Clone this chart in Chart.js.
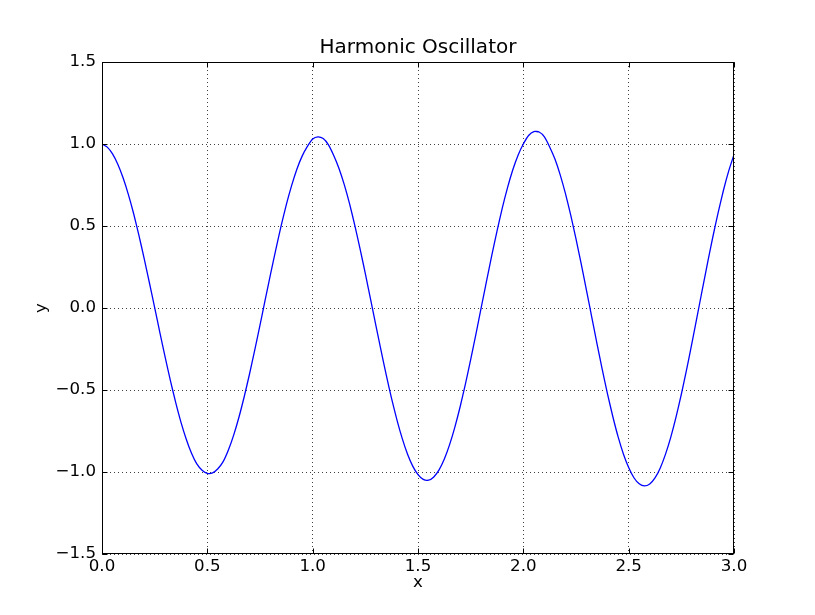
<!DOCTYPE html>
<html>
<head>
<meta charset="utf-8">
<script src="https://cdn.jsdelivr.net/npm/chart.js@4.4.1/dist/chart.umd.min.js"></script>
<style>
    html, body { margin: 0; padding: 0; background: #fff; }
    #wrap { width: 815px; height: 615px; }
</style>
</head>
<body>
<div id="wrap"><canvas id="oscChart"></canvas></div>
<script>
const title = "Harmonic Oscillator";
const xLabel = "x";
const yLabel = "y";

const xTicks = [0, 0.5, 1.0, 1.5, 2.0, 2.5, 3.0];
const yTicks = [-1.5, -1.0, -0.5, 0, 0.5, 1.0, 1.5];

// sample positions
const xValues = [
    0, 0.025, 0.05, 0.075, 0.1, 0.125, 0.15, 0.175, 0.2, 0.225,
    0.25, 0.275, 0.3, 0.325, 0.35, 0.375, 0.4, 0.425, 0.45, 0.475,
    0.5, 0.525, 0.55, 0.575, 0.6, 0.625, 0.65, 0.675, 0.7, 0.725,
    0.75, 0.775, 0.8, 0.825, 0.85, 0.875, 0.9, 0.925, 0.95, 0.975,
    1.0, 1.025, 1.05, 1.075, 1.1, 1.125, 1.15, 1.175, 1.2, 1.225,
    1.25, 1.275, 1.3, 1.325, 1.35, 1.375, 1.4, 1.425, 1.45, 1.475,
    1.5, 1.525, 1.55, 1.575, 1.6, 1.625, 1.65, 1.675, 1.7, 1.725,
    1.75, 1.775, 1.8, 1.825, 1.85, 1.875, 1.9, 1.925, 1.95, 1.975,
    2.0, 2.025, 2.05, 2.075, 2.1, 2.125, 2.15, 2.175, 2.2, 2.225,
    2.25, 2.275, 2.3, 2.325, 2.35, 2.375, 2.4, 2.425, 2.45, 2.475,
    2.5, 2.525, 2.55, 2.575, 2.6, 2.625, 2.65, 2.675, 2.7, 2.725,
    2.75, 2.775, 2.8, 2.825, 2.85, 2.875, 2.9, 2.925, 2.95, 2.975,
    3.0
];

const yValues = [
    1.000, 0.981, 0.940, 0.877, 0.794, 0.693, 0.576, 0.444, 0.303, 0.154,
    0.002, -0.151, -0.301, -0.444, -0.577, -0.697, -0.800, -0.886, -0.951, -0.989,
    -1.008, -1.005, -0.980, -0.937, -0.866, -0.775, -0.666, -0.541, -0.404, -0.257,
    -0.104, 0.052, 0.206, 0.356, 0.499, 0.630, 0.746, 0.846, 0.926, 0.985,
    1.030, 1.044, 1.033, 0.995, 0.930, 0.851, 0.752, 0.636, 0.504, 0.361,
    0.209, 0.052, -0.106, -0.262, -0.413, -0.554, -0.682, -0.795, -0.890, -0.964,
    -1.016, -1.045, -1.050, -1.030, -0.987, -0.921, -0.833, -0.726, -0.602, -0.464,
    -0.315, -0.159, 0.002, 0.162, 0.319, 0.469, 0.609, 0.734, 0.843, 0.932,
    1.000, 1.052, 1.076, 1.073, 1.043, 0.982, 0.908, 0.812, 0.697, 0.566,
    0.421, 0.267, 0.106, -0.057, -0.220, -0.377, -0.526, -0.663, -0.786, -0.890,
    -0.973, -1.035, -1.072, -1.085, -1.073, -1.036, -0.975, -0.891, -0.787, -0.664,
    -0.526, -0.376, -0.216, -0.051, 0.115, 0.278, 0.436, 0.583, 0.718, 0.836,
    0.935
];

function fmt(v) {
    return Number(v).toFixed(1).replace("-", "\u2212");
}

// box around the axes and inward tick marks on all four sides
const frameTicks = {
    id: "frameTicks",
    afterDatasetsDraw(chart) {
        const { ctx, chartArea: a, scales } = chart;
        const L = Math.round(a.left) + 0.5, R = Math.round(a.right) - 0.5;
        const T = Math.round(a.top) + 0.5, B = Math.round(a.bottom) - 0.5;
        const len = 5;
        ctx.save();
        ctx.strokeStyle = "#000";
        ctx.lineWidth = 1;
        ctx.beginPath();
        scales.x.ticks.forEach(t => {
            const px = Math.round(scales.x.getPixelForValue(t.value)) + 0.5;
            ctx.moveTo(px, B); ctx.lineTo(px, B - len);
            ctx.moveTo(px, T); ctx.lineTo(px, T + len);
        });
        scales.y.ticks.forEach(t => {
            const py = Math.round(scales.y.getPixelForValue(t.value)) + 0.5;
            ctx.moveTo(L, py); ctx.lineTo(L + len, py);
            ctx.moveTo(R, py); ctx.lineTo(R - len, py);
        });
        ctx.stroke();
        ctx.strokeRect(L, T, R - L, B - T);
        ctx.restore();
    }
};

function initChart() {
    Chart.defaults.font.family = "'DejaVu Sans', sans-serif";
    Chart.defaults.color = "#000";

    const ctx = document.getElementById("oscChart");
    const points = xValues.map((x, i) => ({ x: x, y: yValues[i] }));

    new Chart(ctx, {
        type: "line",
        data: {
            datasets: [{
                data: points,
                borderColor: "#0000ff",
                borderWidth: 1.3,
                pointRadius: 0,
                tension: 0.2,
                fill: false
            }]
        },
        options: {
            responsive: true,
            maintainAspectRatio: false,
            animation: false,
            layout: { padding: { top: 36, right: 81, left: 0, bottom: 0 } },
            plugins: {
                legend: { display: false },
                tooltip: { enabled: false },
                title: {
                    display: true,
                    text: title,
                    color: "#000",
                    fullSize: false,
                    font: { size: 20, weight: "normal" },
                    padding: { top: 0, bottom: 2 }
                }
            },
            scales: {
                x: {
                    type: "linear",
                    min: xTicks[0],
                    max: xTicks[xTicks.length - 1],
                    afterFit: s => { s.height = 61; },
                    afterBuildTicks: s => { s.ticks = xTicks.map(v => ({ value: v })); },
                    ticks: { callback: fmt, padding: 3, font: { size: 16.67 }, maxRotation: 0, autoSkip: false },
                    grid: { color: "rgba(0,0,0,0.75)", lineWidth: 1, drawTicks: false },
                    border: { display: false, dash: [1, 3] },
                    title: { display: true, text: xLabel, font: { size: 16.67 }, padding: { top: 0, bottom: 22 } }
                },
                y: {
                    type: "linear",
                    min: yTicks[0],
                    max: yTicks[yTicks.length - 1],
                    afterFit: s => { s.width = 102; },
                    afterBuildTicks: s => { s.ticks = yTicks.map(v => ({ value: v })); },
                    ticks: { callback: fmt, padding: 6, font: { size: 16.67 }, autoSkip: false },
                    grid: { color: "rgba(0,0,0,0.75)", lineWidth: 1, drawTicks: false },
                    border: { display: false, dash: [1, 3] },
                    title: { display: true, text: yLabel, font: { size: 16.67 }, padding: { top: 32, bottom: 0 } }
                }
            }
        },
        plugins: [frameTicks]
    });
}

initChart();
</script>
</body>
</html>
